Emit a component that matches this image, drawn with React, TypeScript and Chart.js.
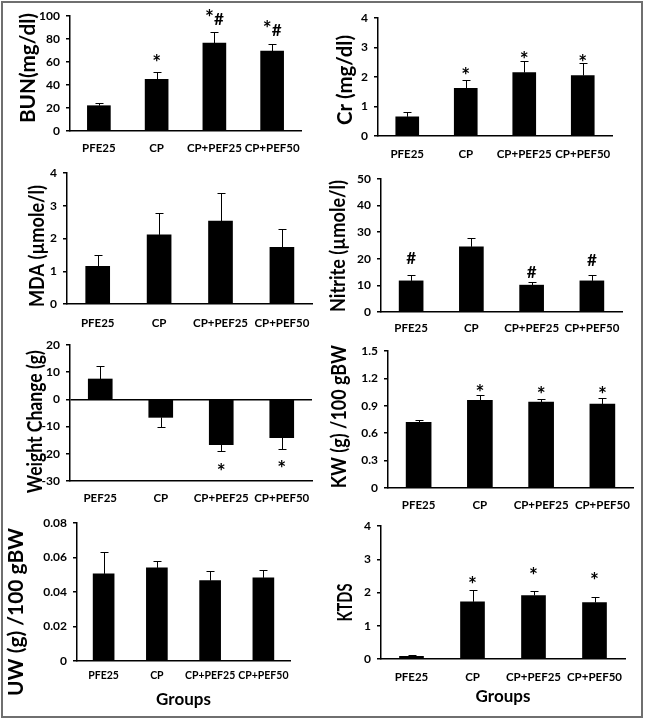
import React, { useEffect, useRef } from 'react';
import { Chart, registerables } from 'chart.js';

Chart.register(...registerables);

const FONT = 'Lato, "Open Sans", sans-serif';

// ---------- data ----------
const groups = ['PFE25', 'CP', 'CP+PEF25', 'CP+PEF50'];
const weightGroups = ['PEF25', 'CP', 'CP+PEF25', 'CP+PEF50'];

const bunMean = [22, 45, 76.5, 69.5];
const bunErr = [2, 6, 9.5, 6.5];
const bunMarks = ['', '*', '*#', '*#'];
const bunMarkAt = [null, 63.5, 98.7, 89.7];
const bunTicks = [0, 20, 40, 60, 80, 100];

const crMean = [0.65, 1.62, 2.15, 2.05];
const crErr = [0.15, 0.27, 0.38, 0.41];
const crMarks = ['', '*', '*', '*'];
const crMarkAt = [null, 2.21, 2.75, 2.63];
const crTicks = [0, 1, 2, 3, 4];

const mdaMean = [1.15, 2.11, 2.53, 1.73];
const mdaErr = [0.35, 0.67, 0.86, 0.55];
const mdaMarks = ['', '', '', ''];
const mdaMarkAt = [null, null, null, null];
const mdaTicks = [0, 1, 2, 3, 4];

const nitMean = [11.7, 24.5, 10.1, 11.7];
const nitErr = [2.2, 3.4, 1.1, 2.2];
const nitMarks = ['#', '', '#', '#'];
const nitMarkAt = [20.4, null, 15.1, 19.5];
const nitTicks = [0, 10, 20, 30, 40, 50];

const wcMean = [7.5, -6.6, -16.6, -14.1];
const wcErr = [4.9, 3.5, 2.4, 4.0];
const wcMarks = ['', '', '*', '*'];
const wcMarkAt = [null, null, -24.8, -23.6];
const wcTicks = [-30, -20, -10, 0, 10, 20];

const kwMean = [0.72, 0.96, 0.94, 0.92];
const kwErr = [0.02, 0.06, 0.03, 0.06];
const kwMarks = ['', '*', '*', '*'];
const kwMarkAt = [null, 1.1, 1.07, 1.07];
const kwTicks = [0, 0.3, 0.6, 0.9, 1.2, 1.5];

const uwMean = [0.0505, 0.0540, 0.0466, 0.0482];
const uwErr = [0.0128, 0.0042, 0.0058, 0.0046];
const uwMarks = ['', '', '', ''];
const uwMarkAt = [null, null, null, null];
const uwTicks = [0, 0.02, 0.04, 0.06, 0.08];

const ktdsMean = [0.08, 1.72, 1.91, 1.7];
const ktdsErr = [0.03, 0.35, 0.14, 0.16];
const ktdsMarks = ['', '*', '*', '*'];
const ktdsMarkAt = [null, 2.37, 2.64, 2.5];
const ktdsTicks = [0, 1, 2, 3, 4];

type Panel = {
  labels: string[];
  mean: number[];
  err: number[];
  marks: string[];
  markAt: (number | null)[];
  ticks: number[];
  title: string;
};

const panels: Panel[] = [
  { labels: groups, mean: bunMean, err: bunErr, marks: bunMarks, markAt: bunMarkAt, ticks: bunTicks, title: 'BUN(mg/dl)' },
  { labels: groups, mean: crMean, err: crErr, marks: crMarks, markAt: crMarkAt, ticks: crTicks, title: 'Cr (mg/dl)' },
  { labels: groups, mean: mdaMean, err: mdaErr, marks: mdaMarks, markAt: mdaMarkAt, ticks: mdaTicks, title: 'MDA (µmole/l)' },
  { labels: groups, mean: nitMean, err: nitErr, marks: nitMarks, markAt: nitMarkAt, ticks: nitTicks, title: 'Nitrite (µmole/l)' },
  { labels: weightGroups, mean: wcMean, err: wcErr, marks: wcMarks, markAt: wcMarkAt, ticks: wcTicks, title: 'Weight Change (g)' },
  { labels: groups, mean: kwMean, err: kwErr, marks: kwMarks, markAt: kwMarkAt, ticks: kwTicks, title: 'KW (g) /100 gBW' },
  { labels: groups, mean: uwMean, err: uwErr, marks: uwMarks, markAt: uwMarkAt, ticks: uwTicks, title: 'UW (g) /100 gBW' },
  { labels: groups, mean: ktdsMean, err: ktdsErr, marks: ktdsMarks, markAt: ktdsMarkAt, ticks: ktdsTicks, title: 'KTDS' },
];

// ---------- layout (page pixels) ----------
type Geom = {
  col: number; axisX: number; topY: number; bottomY: number; rightX: number; labelCY: number;
  tx: number; ty: number; tlen: number; barW: number; catFont: number; zeroLine?: boolean; groupsCY?: number;
};

const geoms: Geom[] = [
  { col: 0, axisX: 70, topY: 16, bottomY: 131, rightX: 301, labelCY: 148, tx: 27, ty: 68, tlen: 110, barW: 23, catFont: 11.5 },
  { col: 1, axisX: 378, topY: 18, bottomY: 136, rightX: 612, labelCY: 154, tx: 344.7, ty: 80, tlen: 90, barW: 23, catFont: 11.5 },
  { col: 0, axisX: 67, topY: 173, bottomY: 304, rightX: 318, labelCY: 323, tx: 36.3, ty: 246, tlen: 122, barW: 24, catFont: 11.5 },
  { col: 1, axisX: 381, topY: 179, bottomY: 312, rightX: 622, labelCY: 328, tx: 337.3, ty: 246, tlen: 132, barW: 24, catFont: 11.5 },
  { col: 0, axisX: 70, topY: 345, bottomY: 481, rightX: 312, labelCY: 498, tx: 34.2, ty: 421.7, tlen: 143, barW: 24, catFont: 11.5, zeroLine: true },
  { col: 1, axisX: 388, topY: 351, bottomY: 488, rightX: 633, labelCY: 505, tx: 338.8, ty: 416.7, tlen: 143, barW: 25, catFont: 11.5 },
  { col: 0, axisX: 77, topY: 523, bottomY: 661, rightX: 290, labelCY: 676, tx: 15, ty: 612, tlen: 168, barW: 21, catFont: 10.5, groupsCY: 700 },
  { col: 1, axisX: 381, topY: 526, bottomY: 659, rightX: 625, labelCY: 677, tx: 344.2, ty: 602.5, tlen: 38, barW: 24, catFont: 11.5, groupsCY: 697 },
];

const markFont = (ch: string) => (ch === '*' ? `bold 21px ${FONT}` : `bold 17px ${FONT}`);

function rectFor(g: Geom) {
  const cx = g.col === 0 ? 0 : 322;
  const cw = 322;
  const cy = Math.max(0, g.topY - 26);
  const bottom = g.groupsCY ? 716 : g.labelCY + 22;
  return { cx, cy, cw, ch: bottom - cy };
}

function PanelChart({ panel, geom }: { panel: Panel; geom: Geom }) {
  const ref = useRef<HTMLCanvasElement | null>(null);
  const r = rectFor(geom);

  useEffect(() => {
    if (!ref.current) return;
    const { cx, cy, cw, ch } = r;
    const g = geom;
    const catLH = g.catFont * 1.2;

    const extras = {
      id: 'extras',
      afterDraw(chart: any) {
        const ctx = chart.ctx as CanvasRenderingContext2D;
        const ys = chart.scales.y;
        const meta = chart.getDatasetMeta(0);
        ctx.save();
        // error bars
        ctx.strokeStyle = '#000';
        ctx.lineWidth = 1;
        meta.data.forEach((bar: any, i: number) => {
          const m = panel.mean[i];
          const e = panel.err[i];
          const dir = m < 0 ? -1 : 1;
          const x = Math.round(bar.x) + 0.5;
          const y0 = ys.getPixelForValue(m);
          const y1 = Math.round(ys.getPixelForValue(m + dir * e)) + 0.5;
          ctx.beginPath();
          ctx.moveTo(x, y0);
          ctx.lineTo(x, y1);
          ctx.moveTo(x - 4, y1);
          ctx.lineTo(x + 4, y1);
          ctx.stroke();
        });
        // significance marks (each glyph with its own size, group centred)
        ctx.fillStyle = '#000';
        ctx.textAlign = 'left';
        ctx.textBaseline = 'alphabetic';
        panel.marks.forEach((s, i) => {
          const v = panel.markAt[i];
          if (!s || v == null) return;
          const chars = s.split('');
          let total = 0;
          let asc = 0;
          let desc = -1e9;
          const ws: number[] = [];
          chars.forEach((c) => {
            ctx.font = markFont(c);
            const mt = ctx.measureText(c);
            ws.push(mt.width);
            total += mt.width;
            asc = Math.max(asc, mt.actualBoundingBoxAscent);
            desc = Math.max(desc, mt.actualBoundingBoxDescent);
          });
          const cp = ys.getPixelForValue(v);
          const base = cp + (asc - desc) / 2;
          let x = meta.data[i].x - total / 2;
          chars.forEach((c, k) => {
            ctx.font = markFont(c);
            ctx.fillText(c, x, base);
            x += ws[k];
          });
        });
        // rotated y-axis title
        ctx.font = `bold 20px ${FONT}`;
        const capH = ctx.measureText('H').actualBoundingBoxAscent;
        const w = ctx.measureText(panel.title).width;
        ctx.translate(g.tx - cx, g.ty - cy);
        ctx.rotate(-Math.PI / 2);
        ctx.scale(g.tlen / w, 1);
        ctx.textAlign = 'center';
        ctx.fillText(panel.title, 0, capH / 2);
        ctx.restore();
      },
    };

    const chart = new Chart(ref.current, {
      type: 'bar',
      data: {
        labels: panel.labels,
        datasets: [
          {
            data: panel.mean,
            backgroundColor: '#000',
            borderWidth: 0,
            barThickness: g.barW,
          },
        ],
      },
      options: {
        responsive: false,
        maintainAspectRatio: false,
        animation: false,
        devicePixelRatio: 1,
        events: [],
        layout: { padding: { left: 0, top: g.topY - cy, right: cx + cw - g.rightX, bottom: 0 } },
        plugins: { legend: { display: false }, tooltip: { enabled: false }, title: { display: false } },
        scales: {
          x: {
            type: 'category',
            offset: true,
            grid: { display: false, drawTicks: false },
            border: { display: true, color: '#000', width: 1.5 },
            ticks: {
              color: '#000',
              font: { family: FONT, weight: 'bold', size: g.catFont },
              padding: g.labelCY - g.bottomY - catLH / 2,
              autoSkip: false,
              maxRotation: 0,
              minRotation: 0,
            },
            title: g.groupsCY
              ? {
                  display: true,
                  text: 'Groups',
                  color: '#000',
                  font: { family: FONT, weight: 'bold', size: 17 },
                  padding: { top: 0, bottom: cy + ch - g.groupsCY - 10.2 },
                }
              : { display: false },
            afterFit: (s: any) => {
              s.height = cy + ch - g.bottomY;
            },
          },
          y: {
            type: 'linear',
            min: panel.ticks[0],
            max: panel.ticks[panel.ticks.length - 1],
            afterBuildTicks: (s: any) => {
              s.ticks = panel.ticks.map((v) => ({ value: v }));
            },
            ticks: {
              color: '#000',
              font: { family: FONT, weight: 'bold', size: 12 },
              padding: 6,
              callback: (v: any) => String(v),
            },
            grid: {
              display: true,
              drawOnChartArea: !!g.zeroLine,
              drawTicks: true,
              tickLength: 4,
              color: g.zeroLine
                ? (c: any) => (c.tick && c.tick.value === 0 ? '#000' : 'rgba(0,0,0,0)')
                : '#000',
              tickColor: '#000',
              lineWidth: 1.5,
            },
            border: { display: true, color: '#000', width: 1.5 },
            afterFit: (s: any) => {
              s.width = g.axisX - cx;
            },
          },
        },
      } as any,
      plugins: [extras as any],
    });
    return () => chart.destroy();
  }, []);

  return (
    <canvas
      ref={ref}
      width={r.cw}
      height={r.ch}
      style={{ position: 'absolute', left: r.cx, top: r.cy, width: r.cw, height: r.ch }}
    />
  );
}

export default function App() {
  Chart.defaults.font.family = FONT;
  Chart.defaults.color = '#000';
  return (
    <div style={{ position: 'absolute', left: 0, top: 0, width: 645, height: 720, background: '#fff', overflow: 'hidden' }}>
      {panels.map((p, i) => (
        <PanelChart key={i} panel={p} geom={geoms[i]} />
      ))}
      <div
        style={{
          position: 'absolute',
          left: 1,
          top: 1,
          width: 638,
          height: 713,
          border: '2px solid #6f6f6f',
          pointerEvents: 'none',
        }}
      />
    </div>
  );
}
